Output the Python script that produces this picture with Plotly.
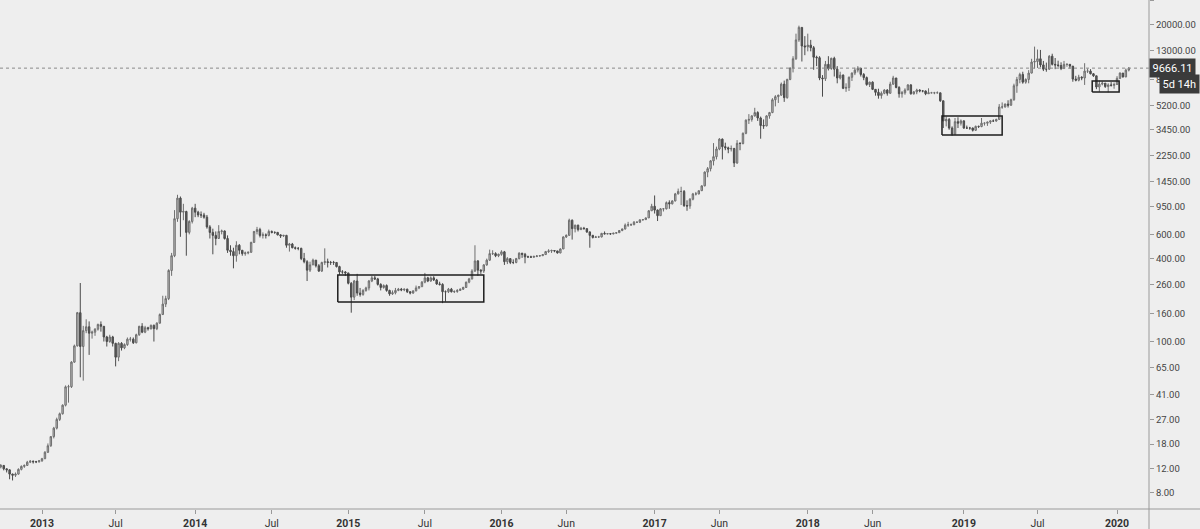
import numpy as np
import pandas as pd
import plotly.graph_objects as go

# ---------------- data (weekly BTC/USD candles) ----------------
first_open = 12.2

week_starts = ["2012-09-24", "2013-01-07", "2014-01-06", "2015-01-05", "2016-01-04",
               "2017-01-02", "2018-01-01", "2019-01-07", "2020-01-06"]

close_2012 = [12.3, 12.6, 11.9, 11.7, 10.9, 10.7, 10.9, 11.8, 12.4, 12.6, 13.3, 13.5, 13.4, 13.4, 13.6]
high_2012 = [12.6, 12.9, 12.6, 12.0, 11.8, 11.0, 11.2, 12.0, 12.6, 12.8, 13.6, 13.8, 13.7, 13.6, 13.8]
low_2012 = [11.9, 12.0, 11.6, 11.2, 10.0, 9.8, 10.4, 10.8, 11.6, 12.1, 12.5, 13.1, 13.0, 13.1, 13.2]

close_2013 = [14.1, 15.7, 17.5, 20.4, 23.5, 27.2, 29.9, 34.5, 46.9, 47.0, 70.9, 93, 162, 92, 120, 128, 115, 117,
              123, 133, 129, 108, 100, 108, 97, 77, 97, 90, 95, 104, 104, 98, 112, 129, 117, 126, 124, 131, 124,
              136, 157, 187, 205, 328, 420, 780, 1100, 870, 880, 620, 745, 930]
high_2013 = [14.3, 16.0, 18.2, 20.6, 24.0, 28.0, 30.5, 35.0, 48.0, 48.5, 72, 95, 164, 266, 130, 145, 140, 120,
             125, 135, 140, 125, 110, 112, 110, 98, 99, 99, 97, 107, 108, 107, 114, 130, 136, 130, 128, 133, 133,
             138, 160, 215, 215, 335, 440, 900, 1163, 1130, 1000, 890, 760, 950]
low_2013 = [13.4, 14.0, 15.5, 17.2, 19.8, 23.0, 26.5, 29.5, 33.8, 36, 46, 70, 92, 55, 52, 115, 80, 105,
            110, 120, 118, 100, 92, 98, 92, 66, 72, 86, 88, 93, 100, 96, 97, 110, 115, 115, 120, 122, 100,
            121, 135, 157, 178, 200, 300, 410, 740, 576, 760, 420, 600, 720]

close_2014 = [870, 830, 830, 800, 680, 620, 590, 560, 630, 635, 560, 460, 450, 420, 500, 460, 435, 440, 445, 525,
              630, 650, 590, 595, 590, 630, 620, 620, 595, 585, 590, 500, 510, 480, 475, 475, 400, 380, 330, 360,
              390, 355, 325, 375, 380, 375, 375, 375, 350, 320, 320, 315]
high_2014 = [1000, 890, 880, 860, 830, 700, 660, 630, 700, 650, 640, 590, 500, 480, 535, 510, 460, 450, 450, 530,
             635, 680, 670, 620, 610, 650, 640, 630, 625, 600, 595, 595, 520, 520, 490, 485, 480, 440, 390, 380,
             400, 390, 365, 380, 475, 400, 385, 385, 360, 355, 330, 325]
low_2014 = [800, 800, 790, 780, 660, 560, 430, 500, 560, 600, 550, 440, 420, 340, 380, 430, 420, 420, 430, 440,
            520, 600, 570, 560, 560, 580, 610, 605, 590, 565, 575, 480, 450, 475, 465, 460, 390, 370, 275, 320,
            360, 345, 320, 320, 360, 345, 360, 360, 345, 305, 310, 300]

close_2015 = [265, 210, 275, 225, 220, 235, 245, 275, 290, 285, 260, 247, 255, 235, 222, 226, 235, 240, 237, 240,
              230, 225, 233, 245, 250, 270, 290, 275, 290, 280, 262, 260, 230, 230, 240, 230, 231, 235, 240, 247,
              270, 285, 325, 385, 330, 325, 360, 390, 435, 435, 420, 430]
high_2015 = [300, 270, 280, 310, 245, 240, 250, 280, 300, 300, 290, 265, 260, 260, 238, 235, 245, 245, 245, 242,
             242, 232, 236, 255, 252, 275, 315, 295, 297, 298, 285, 272, 265, 235, 245, 245, 235, 240, 243, 250,
             272, 290, 335, 500, 390, 335, 365, 400, 465, 460, 445, 435]
low_2015 = [260, 162, 200, 215, 212, 215, 230, 235, 270, 280, 255, 235, 242, 230, 215, 218, 220, 232, 232, 232,
            225, 220, 222, 232, 240, 250, 265, 270, 272, 275, 258, 255, 190, 195, 225, 227, 225, 226, 233, 237,
            245, 265, 282, 320, 300, 310, 315, 355, 385, 425, 410, 410]

close_2016 = [448, 380, 400, 375, 375, 400, 438, 430, 412, 412, 410, 415, 418, 420, 428, 450, 455, 458, 455, 440,
              470, 575, 590, 760, 660, 700, 650, 665, 660, 625, 590, 570, 575, 575, 610, 605, 607, 605, 612, 617,
              640, 657, 700, 705, 705, 735, 735, 765, 768, 790, 890, 960]
high_2016 = [460, 455, 410, 400, 395, 405, 445, 440, 440, 420, 420, 420, 425, 425, 432, 455, 468, 465, 460, 455,
             475, 580, 600, 780, 770, 705, 705, 680, 680, 665, 630, 595, 585, 585, 615, 630, 612, 610, 615, 622,
             645, 660, 720, 740, 720, 750, 745, 770, 775, 795, 900, 1000]
low_2016 = [420, 360, 365, 365, 365, 370, 395, 405, 370, 405, 405, 405, 410, 415, 418, 425, 440, 440, 445, 435,
            437, 470, 565, 590, 550, 620, 630, 645, 650, 615, 480, 560, 565, 565, 570, 600, 600, 595, 600, 608,
            615, 632, 650, 680, 690, 700, 725, 725, 755, 765, 790, 890]

close_2017 = [900, 820, 920, 920, 1020, 1000, 1050, 1180, 1230, 1230, 970, 965, 1080, 1180, 1180, 1245, 1350, 1700,
              1800, 2050, 2200, 2500, 2950, 2600, 2550, 2500, 2520, 1980, 2750, 2740, 3250, 4050, 4100, 4350, 4600,
              4200, 3700, 3680, 4350, 4600, 5700, 6000, 6150, 7400, 5900, 8000, 9700, 11300, 15500, 19100, 14000, 13800]
high_2017 = [1150, 910, 930, 930, 1040, 1060, 1060, 1200, 1290, 1330, 1260, 1060, 1100, 1200, 1220, 1250, 1360, 1720,
             1850, 2080, 2760, 2600, 3000, 2980, 2780, 2600, 2650, 2550, 2900, 2800, 3300, 4100, 4480, 4400, 4980,
             4700, 4300, 4100, 4400, 4650, 5850, 6150, 6200, 7600, 7850, 8100, 9750, 11800, 17200, 19666, 19100, 16500]
low_2017 = [850, 750, 820, 880, 910, 920, 990, 1040, 1170, 980, 950, 890, 920, 1060, 1150, 1170, 1240, 1340,
            1560, 1720, 1900, 2100, 2450, 2100, 2450, 2330, 2400, 1850, 1950, 2450, 2700, 3200, 3800, 3950, 4300,
            4000, 2970, 3500, 3650, 4150, 4550, 5100, 5400, 6100, 5500, 5800, 7900, 9000, 11100, 15000, 10800, 12000]

close_2018 = [14200, 13600, 11600, 11500, 8200, 8100, 10300, 9600, 11400, 9500, 8200, 8600, 6900, 7000, 8300, 8900,
              9350, 9650, 8700, 8250, 7350, 7650, 6780, 6450, 6120, 6350, 6700, 6350, 7400, 8200, 7000, 6300, 6400,
              6700, 7300, 6300, 6500, 6700, 6600, 6600, 6300, 6400, 6400, 6400, 6400, 5600, 4000, 4100, 3550, 3200,
              3950, 3850, 4000]
high_2018 = [17200, 15500, 14000, 11900, 11800, 8600, 10900, 11800, 11500, 11700, 10000, 9100, 8700, 7500, 8400, 9000,
             9750, 9990, 9700, 8900, 8400, 7700, 7750, 6800, 6850, 6550, 6800, 6800, 7700, 8500, 8200, 7150, 6600,
             6900, 7400, 7400, 6600, 6850, 6800, 6650, 6650, 6900, 6500, 6500, 6550, 6400, 5600, 4300, 4200, 3650,
             4200, 4250, 4100]
low_2018 = [12800, 12800, 9400, 10000, 7900, 6000, 7800, 9300, 9400, 8400, 7500, 8000, 6800, 6500, 6600, 7800,
            8600, 9000, 8400, 7900, 7200, 7050, 6700, 6100, 5800, 5800, 6250, 6100, 6300, 7300, 6900, 5900, 5900,
            6200, 6700, 6200, 6200, 6250, 6450, 6450, 6150, 6350, 6350, 6250, 6350, 5500, 3550, 3650, 3450, 3120,
            3200, 3550, 3700]

close_2019 = [3550, 3550, 3550, 3420, 3650, 3640, 3850, 3850, 3920, 4000, 3990, 4100, 5050, 5050, 5300, 5200, 5700,
              7200, 8000, 8700, 7650, 8000, 8900, 10700, 10800, 11300, 10200, 9500, 9500, 11800, 10300, 10200, 10100,
              9600, 10300, 10300, 10000, 8050, 7900, 8300, 8200, 9200, 9200, 8800, 8500, 7050, 7400, 7520, 7100, 7300,
              7250, 7350]
high_2019 = [4050, 3700, 3620, 3580, 3700, 3700, 4200, 3900, 3950, 4030, 4100, 4150, 5300, 5450, 5350, 5650, 5800,
             7450, 8350, 8950, 9100, 8150, 9350, 11300, 13850, 13200, 13100, 10900, 10600, 12000, 12300, 11450, 10950,
             10650, 10900, 10450, 10350, 10000, 8500, 8650, 8450, 10500, 9600, 9500, 8900, 8500, 7850, 7750, 7500,
             7500, 7650, 7600]
low_2019 = [3500, 3500, 3450, 3350, 3380, 3550, 3600, 3700, 3680, 3800, 3950, 3950, 4100, 4900, 5000, 5000, 5150,
            5600, 6400, 7500, 7450, 7450, 7500, 8850, 9600, 9700, 9800, 9200, 9100, 9400, 10100, 9500, 9800,
            9350, 9600, 9900, 9600, 7700, 7750, 7750, 7900, 7300, 8900, 8700, 8350, 6800, 6500, 7250, 6950, 6450,
            7100, 6850]

close_2020 = [8150, 8900, 8350, 9350, 9666.11]
high_2020 = [8450, 9000, 8800, 9600, 9850]
low_2020 = [7300, 8050, 8250, 8300, 9150]

closes = [close_2012, close_2013, close_2014, close_2015, close_2016, close_2017, close_2018, close_2019, close_2020]
highs = [high_2012, high_2013, high_2014, high_2015, high_2016, high_2017, high_2018, high_2019, high_2020]
lows = [low_2012, low_2013, low_2014, low_2015, low_2016, low_2017, low_2018, low_2019, low_2020]

# highlighted ranges (boxes)
box_start = ["2014-12-11", "2018-11-16", "2019-11-08"]
box_end = ["2015-11-23", "2019-04-08", "2020-01-11"]
box_low = [194, 3161, 6486]
box_high = [304, 4341, 7794]

tick_dates = ["2013-01-07", "2013-07-01", "2014-01-06", "2014-07-07", "2015-01-05", "2015-07-06",
              "2016-01-04", "2016-06-06", "2017-01-02", "2017-06-05", "2018-01-01", "2018-06-04",
              "2019-01-07", "2019-07-01", "2020-01-06"]
tick_names = ["<b>2013</b>", "Jul", "<b>2014</b>", "Jul", "<b>2015</b>", "Jul", "<b>2016</b>", "Jun",
              "<b>2017</b>", "Jun", "<b>2018</b>", "Jun", "<b>2019</b>", "Jul", "<b>2020</b>"]
price_ticks = [8, 12, 18, 27, 41, 65, 100, 160, 260, 400, 600, 950, 1450, 2250, 3450, 5200, 8000,
               13000, 20000, 30000]
countdown_text = "5d 14h"

x_range = ["2012-09-29 04:00", "2020-03-22"]
y_range_log = [0.784, 4.48]

# ---------------- build OHLC ----------------
dates, o, h, l, c = [], [], [], [], []
prev = first_open
for start, cl, hi, lo in zip(week_starts, closes, highs, lows):
    assert len(cl) == len(hi) == len(lo), start
    d = pd.date_range(start, periods=len(cl), freq="7D")
    for di, cc, hh, ll in zip(d, cl, hi, lo):
        dates.append(di)
        o.append(prev)
        c.append(cc)
        h.append(max(hh, prev, cc))
        l.append(min(ll, prev, cc))
        prev = cc

last_price = c[-1]

fig = go.Figure()
fig.add_trace(go.Candlestick(
    x=dates, open=o, high=h, low=l, close=c,
    increasing=dict(line=dict(color="#6e6e6e", width=1), fillcolor="#c2c2c2"),
    decreasing=dict(line=dict(color="#4a4a4a", width=1), fillcolor="#5c5c5c"),
    whiskerwidth=0, showlegend=False, hoverinfo="skip"))

# last price dotted line
fig.add_trace(go.Scatter(x=x_range, y=[last_price, last_price], mode="lines",
                         line=dict(color="#8a8a8a", width=1, dash="dot"),
                         showlegend=False, hoverinfo="skip"))

# boxes
for xs, xe, yl, yh in zip(box_start, box_end, box_low, box_high):
    fig.add_trace(go.Scatter(x=[xs, xe, xe, xs, xs], y=[yl, yl, yh, yh, yl], mode="lines",
                             line=dict(color="#1e1e1e", width=1.5),
                             showlegend=False, hoverinfo="skip"))

bg = "#eeeeee"
fig.update_layout(
    width=1200, height=529,
    margin=dict(l=0, r=51, t=0, b=20, autoexpand=False),
    paper_bgcolor=bg, plot_bgcolor=bg,
    font=dict(family="Roboto, Arial, sans-serif", size=10, color="#333333"),
    xaxis=dict(type="date", range=x_range, rangeslider=dict(visible=False),
               tickmode="array", tickvals=tick_dates, ticktext=tick_names,
               showgrid=False, zeroline=False, showline=False,
               ticks="outside", ticklen=4, tickcolor="#999999",
               tickfont=dict(size=10.5, color="#333333"), automargin=False),
    yaxis=dict(type="log", range=y_range_log, side="right",
               tickmode="array", tickvals=price_ticks,
               ticktext=[f"{v:.2f}" for v in price_ticks],
               showgrid=False, zeroline=False, showline=False,
               ticks="outside", ticklen=4, tickcolor="#999999",
               tickfont=dict(size=9.5, color="#444444"), automargin=False),
    shapes=[
        dict(type="line", xref="paper", yref="paper", x0=0, x1=1.1, y0=0, y1=0,
             line=dict(color="#9a9a9a", width=1)),
        dict(type="line", xref="paper", yref="paper", x0=1, x1=1, y0=-0.05, y1=1,
             line=dict(color="#9a9a9a", width=1)),
    ],
    annotations=[
        dict(xref="paper", yref="y", x=1, y=np.log10(last_price), xanchor="left", yanchor="middle",
             text=f"{last_price:.2f}", showarrow=False, bgcolor="#3b3b3b",
             font=dict(color="#ffffff", size=11), borderpad=2.5),
        dict(xref="paper", yref="y", x=1, y=np.log10(last_price), xanchor="left", yanchor="middle",
             xshift=10, yshift=-16, text=countdown_text, showarrow=False, bgcolor="#3b3b3b",
             font=dict(color="#ffffff", size=11), borderpad=2.5),
    ],
)

fig.write_html("out.html")
